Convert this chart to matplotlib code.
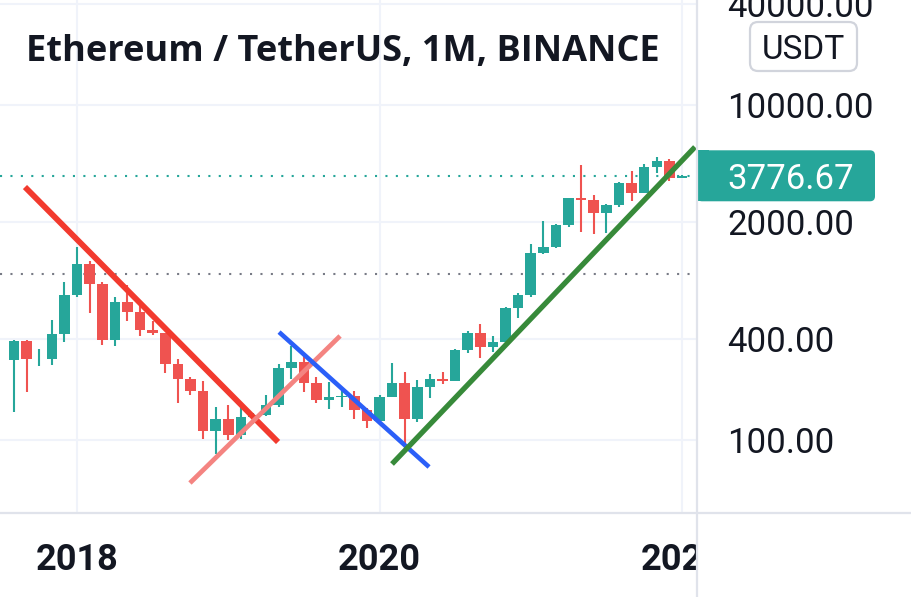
import matplotlib
matplotlib.use("Agg")
import numpy as np
import matplotlib.pyplot as plt
from matplotlib.patches import FancyBboxPatch, Rectangle
from matplotlib.transforms import Bbox, TransformedBbox

# ETH/USDT monthly candles, Aug 2017 .. Jan 2022
months = ["2017-08", "2017-09", "2017-10", "2017-11", "2017-12",
          "2018-01", "2018-02", "2018-03", "2018-04", "2018-05", "2018-06",
          "2018-07", "2018-08", "2018-09", "2018-10", "2018-11", "2018-12",
          "2019-01", "2019-02", "2019-03", "2019-04", "2019-05", "2019-06",
          "2019-07", "2019-08", "2019-09", "2019-10", "2019-11", "2019-12",
          "2020-01", "2020-02", "2020-03", "2020-04", "2020-05", "2020-06",
          "2020-07", "2020-08", "2020-09", "2020-10", "2020-11", "2020-12",
          "2021-01", "2021-02", "2021-03", "2021-04", "2021-05", "2021-06",
          "2021-07", "2021-08", "2021-09", "2021-10", "2021-11", "2021-12",
          "2022-01"]
opens = [301, 388, 303, 305, 431,
         736, 1118, 855, 395, 669, 577,
         453, 433, 283, 232, 197, 113,
         133, 107, 136, 141, 162, 268,
         290, 218, 172, 180, 182, 151,
         129, 179, 217, 133, 206, 231,
         225, 345, 434, 359, 386, 616,
         737, 1313, 1416, 1918, 2772, 2707,
         2275, 2536, 3433, 3000, 4288, 4631,
         3676]
highs = [393, 394, 349, 523, 881,
         1422, 1170, 880, 710, 837, 628,
         514, 436, 305, 237, 224, 158,
         161, 165, 145, 185, 285, 364,
         320, 238, 222, 198, 195, 154,
         184, 288, 254, 227, 247, 254,
         349, 445, 490, 415, 623, 755,
         1476, 2041, 1950, 2798, 4372, 2890,
         2552, 3474, 4027, 4460, 4868, 4778,
         3800]
lows = [146, 193, 275, 280, 385,
        716, 575, 368, 364, 510, 418,
        420, 250, 167, 186, 101, 82,
        100, 101, 125, 139, 157, 230,
        193, 166, 152, 156, 133, 117,
        126, 179, 86, 128, 178, 216,
        223, 330, 310, 334, 374, 535,
        714, 1290, 1400, 1880, 1740, 1700,
        1718, 2450, 2652, 2970, 3950, 3524,
        3650]
closes = [388, 303, 305, 431, 736,
          1118, 855, 395, 669, 577, 453,
          433, 283, 232, 197, 113, 133,
          107, 136, 141, 162, 268, 290,
          218, 172, 180, 182, 151, 129,
          179, 217, 133, 206, 231, 225,
          345, 434, 359, 386, 616, 737,
          1313, 1416, 1918, 2772, 2707, 2275,
          2536, 3433, 3000, 4288, 4631, 3676,
          3776.67]

year_ticks = ["2018-01", "2020-01", "2022-01"]
year_labels = ["2018", "2020", "2022"]
price_ticks = [100, 400, 2000, 10000, 40000]
last_price = 3776.67
gray_level = 975

# drawn trend lines (month index, price)
red_x, red_y = [0.87, 20.95], [3236, 97]
pink_x, pink_y = [13.96, 25.87], [55.2, 417]
blue_x, blue_y = [21.03, 32.93], [440, 68.8]
green_x, green_y = [29.99, 54.03], [71.7, 5610]

UP = "#26A69A"
DOWN = "#EF5350"
TEXT = "#131722"
GRID = "#F0F3FA"
BORDER = "#E0E3EB"

plt.rcParams["font.family"] = ["Roboto", "DejaVu Sans"]

W, H = 912, 597
fig = plt.figure(figsize=(W / 100, H / 100), dpi=100)
ax = fig.add_axes([0, (H - 513) / H, 697 / W, 513 / H])

x = np.arange(len(months))
o = np.array(opens, float)
c = np.array(closes, float)
colors = [UP if cc >= oo else DOWN for oo, cc in zip(o, c)]
bottom = np.minimum(o, c)
top = np.maximum(o, c)

ax.set_yscale("log")
ax.vlines(x, lows, highs, colors=colors, lw=1.5, zorder=3)
ax.bar(x, top - bottom, bottom=bottom, width=0.84, color=colors, zorder=3)

# horizontal dotted levels
ax.axhline(last_price, color=UP, lw=1.5, ls=(0, (1, 4)), zorder=2)
ax.axhline(gray_level, color="#787B86", lw=1.5, ls=(0, (1, 4)), zorder=2)

# trend lines
ax.plot(red_x, red_y, color="#F23A2E", lw=4.2, solid_capstyle="butt", zorder=5)
ax.plot(pink_x, pink_y, color="#F48481", lw=3.4, solid_capstyle="butt", zorder=5)
ax.plot(blue_x, blue_y, color="#2B5FF8", lw=3.3, solid_capstyle="butt", zorder=5)
ax.plot(green_x, green_y, color="#378A3A", lw=3.8, solid_capstyle="butt", zorder=5)

px_per_month = 12.604
x0 = 14.0
ax.set_xlim(-x0 / px_per_month, (697 - x0) / px_per_month)
ax.set_ylim(10 ** (4 - (513 - 105) / 167.4), 10 ** (4 + 105 / 167.4))

ax.set_xticks([months.index(m) for m in year_ticks])
ax.set_xticklabels(year_labels, fontsize=26, fontweight="bold", color=TEXT)
ax.set_yticks(price_ticks)
ax.set_yticklabels([f"{v:.2f}" for v in price_ticks], fontsize=25, color=TEXT)
ax.yaxis.set_minor_locator(matplotlib.ticker.NullLocator())
ax.yaxis.tick_right()
ax.tick_params(axis="y", length=0, pad=22)
ax.tick_params(axis="x", length=0, pad=21)
ax.grid(True, color=GRID, lw=1.5, zorder=0)
ax.set_axisbelow(True)
for s in ax.spines.values():
    s.set_visible(False)

ax.text(26 / 697, 1 - 61 / 513, "Ethereum / TetherUS, 1M, BINANCE",
        transform=ax.transAxes, fontsize=26, fontweight="bold",
        family=["Open Sans", "DejaVu Sans"], color=TEXT, va="baseline", zorder=6)

# overlay in pixel coordinates for the frame and price scale boxes
ov = fig.add_axes([0, 0, 1, 1], zorder=10)
ov.set_xlim(0, W)
ov.set_ylim(H, 0)
ov.axis("off")
ov.patch.set_alpha(0)
ov.plot([697, 697], [0, H], color=BORDER, lw=1.6)
ov.plot([0, W], [513, 513], color=BORDER, lw=1.6)

yc = H - ax.transData.transform((0, last_price))[1]
ov.add_patch(FancyBboxPatch((697, yc - 25.5), 178, 51,
                            boxstyle="round,pad=0,rounding_size=5",
                            fc=UP, ec="none"))
ov.add_patch(Rectangle((697, yc - 25.5), 12, 51, fc=UP, ec="none"))
ov.text(727, yc, f"{last_price:.2f}", color="white", fontsize=25,
        va="center_baseline", ha="left")

ov.add_patch(FancyBboxPatch((750, 22), 107, 49,
                            boxstyle="round,pad=0,rounding_size=8",
                            fc="white", ec="#D1D4DC", lw=1.6))
ov.text(803.5, 46.5, "USDT", color=TEXT, fontsize=24,
        va="center_baseline", ha="center")

# clip the x labels at the price scale
fig.canvas.draw()
clip = TransformedBbox(Bbox([[0, 0], [697 / W, 1]]), fig.transFigure)
for t in ax.xaxis.get_major_ticks():
    t.label1.set_clip_box(clip)
    t.label1.set_clip_on(True)

fig.savefig("out.png", dpi=100, facecolor="white")
